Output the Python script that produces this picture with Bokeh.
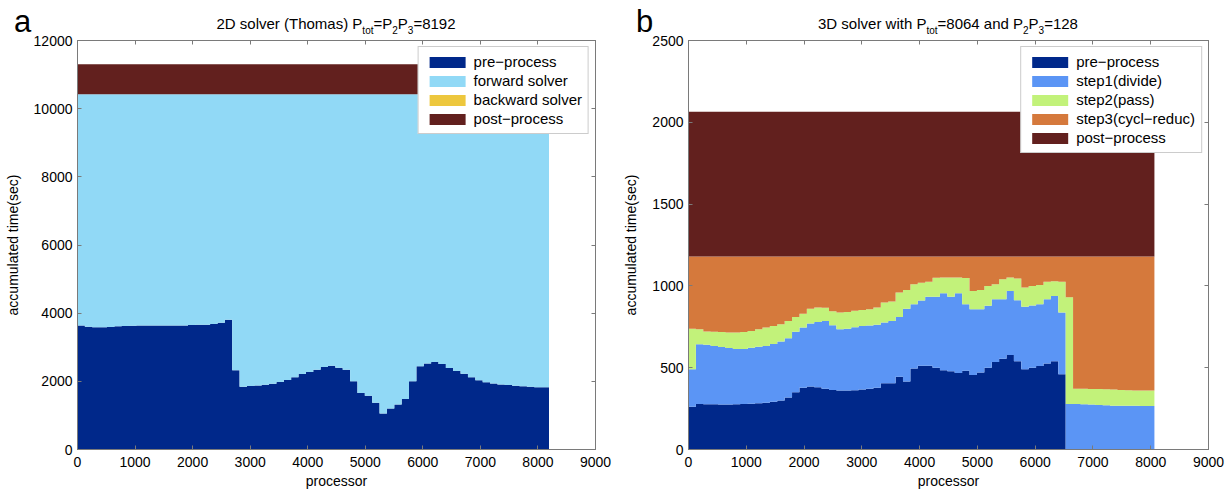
from bokeh.plotting import figure
from bokeh.layouts import row, column
from bokeh.models import FixedTicker, LinearAxis, Range1d, CustomJSTickFormatter, Div
from bokeh.embed import file_html
from bokeh.resources import INLINE

# ---------------- data: panel a (2D solver, Thomas) ----------------
BIN_A = 128                      # processors per bar
pre_end_a = [3640, 3600, 3590, 3590, 3595, 3615, 3625, 3630, 3635, 3640,
             3640, 3640, 3640, 3640, 3640, 3655, 3660, 3660, 3680, 3720,
             3805, 2322, 1844, 1860, 1880, 1900, 1930, 1980, 2040, 2117,
             2215, 2273, 2341, 2420, 2460, 2400, 2340, 2000, 1660, 1580,
             1370, 1055, 1200, 1320, 1480, 2000, 2440, 2520, 2570, 2510,
             2390, 2300, 2220, 2120, 2030, 1970, 1940, 1910, 1890, 1870,
             1855, 1840, 1830, 1825]
fwd_end_a = [10420] * 64
bwd_end_a = [10420] * 64
post_end_a = [11300] * 64

# ---------------- data: panel b (3D solver) ----------------
BIN_B = 128
pre_end_b = [261, 278, 277, 276, 275, 275, 276, 278, 280, 283,
             286, 292, 300, 318, 350, 378, 385, 380, 372, 364,
             360, 360, 362, 366, 372, 378, 405, 405, 445, 415,
             495, 512, 512, 500, 484, 478, 468, 482, 455, 470,
             500, 535, 555, 578, 540, 490, 500, 510, 525, 540,
             460, 0, 0, 0, 0, 0, 0, 0, 0, 0, 0, 0, 0]
step1_end_b = [490, 643, 640, 632, 626, 620, 615, 615, 622, 628,
               633, 645, 660, 680, 720, 745, 770, 780, 786, 760,
               735, 738, 748, 755, 758, 762, 776, 785, 810, 860,
               888, 910, 933, 933, 955, 933, 955, 888, 857, 857,
               878, 918, 918, 969, 912, 872, 880, 888, 918, 939,
               837, 278, 278, 276, 275, 272, 270, 268, 268, 267, 267, 266, 266]
step2_end_b = [738, 735, 722, 720, 718, 715, 715, 718, 725, 735,
               745, 755, 766, 786, 810, 830, 860, 868, 866, 845,
               837, 840, 848, 852, 858, 868, 898, 905, 960, 975,
               1010, 1020, 1025, 1050, 1051, 1051, 1051, 1048, 969, 975,
               1000, 1010, 1040, 1051, 1045, 990, 1000, 1005, 1026, 1028,
               1026, 930, 372, 372, 370, 370, 368, 366, 364, 362, 360, 360, 360]
step3_end_b = [1180] * 63
post_end_b = [2065] * 63

labels_a = ["pre\u2212process", "forward solver", "backward solver", "post\u2212process"]
labels_b = ["pre\u2212process", "step1(divide)", "step2(pass)", "step3(cycl\u2212reduc)", "post\u2212process"]
x_ticks = [0, 1000, 2000, 3000, 4000, 5000, 6000, 7000, 8000, 9000]
y_ticks_a = [0, 2000, 4000, 6000, 8000, 10000, 12000]
y_ticks_b = [0, 500, 1000, 1500, 2000, 2500]

colors_a = ["#00288A", "#91D9F6", "#EDC73D", "#62201E"]
colors_b = ["#00288A", "#5B95F5", "#C2F27A", "#D5793C", "#62201E"]

F = "Liberation Sans"
FRAME = "#7a7a7a"
TOP = 28          # height of the title strip (its text may run a little lower)


def make_panel(width, bl, br, yr, ends, colors, names, yticks, binw):
    p = figure(width=width, height=492 - TOP, output_backend="svg", toolbar_location=None,
               x_range=Range1d(0, 9000), y_range=Range1d(0, yr),
               min_border_left=bl, min_border_right=br, min_border_top=12, min_border_bottom=43)
    p.grid.visible = False
    p.outline_line_color = FRAME
    p.background_fill_color = "white"
    p.border_fill_color = None
    n = len(ends[0])
    edges = [i * binw for i in range(n + 1)]
    bottom = [0] * n
    for e, c, nm in zip(ends, colors, names):
        y1 = list(bottom) + [bottom[-1]]
        y2 = list(e) + [e[-1]]
        p.varea_step(x=edges, y1=y1, y2=y2, step_mode="after", fill_color=c,
                     legend_label=nm)
        bottom = e
    p.add_layout(LinearAxis(), "above")
    p.add_layout(LinearAxis(), "right")
    for ax in p.xaxis:
        ax.ticker = FixedTicker(ticks=x_ticks)
    for ax in p.yaxis:
        ax.ticker = FixedTicker(ticks=yticks)
    for ax in p.axis:
        ax.major_tick_in = 4
        ax.major_tick_out = 0
        ax.minor_tick_line_color = None
        ax.axis_line_color = FRAME
        ax.major_tick_line_color = FRAME
        ax.major_label_text_font = F
        ax.major_label_text_font_size = "14px"
        ax.major_label_text_color = "black"
        ax.axis_label_text_font = F
        ax.axis_label_text_font_size = "14px"
        ax.axis_label_text_font_style = "normal"
        ax.axis_label_text_color = "black"
    for ax in (p.above[-1], p.right[-1]):
        ax.formatter = CustomJSTickFormatter(code="return ''")
        ax.major_label_standoff = 0
    xb = p.below[0]
    xb.axis_label = "processor"
    xb.major_label_standoff = 7
    xb.axis_label_standoff = 3
    yl = p.left[0]
    yl.axis_label = "accumulated time(sec)"
    yl.major_label_standoff = 5
    yl.axis_label_standoff = 10

    lg = p.legend[0]
    lg.location = "top_right"
    lg.margin = 6
    lg.padding = 6
    lg.spacing = 2
    lg.glyph_width = 45
    lg.glyph_height = 14
    lg.label_height = 14
    lg.label_standoff = 4
    lg.label_text_font = F
    lg.label_text_font_size = "15px"
    lg.label_text_color = "black"
    lg.border_line_color = "#9a9a9a"
    lg.background_fill_alpha = 1.0
    return p


def title_div(width, letter, letter_left, center, html):
    s = ("<div style='position:relative;width:%dpx;height:%dpx;overflow:visible;"
         "font-family:\"Liberation Sans\";color:black;'>"
         "<span style='position:absolute;left:%dpx;top:6px;font-size:31px;line-height:31px;'>%s</span>"
         "<span style='position:absolute;left:%dpx;top:16px;transform:translateX(-50%%);white-space:nowrap;"
         "font-size:15px;line-height:15px;'>%s</span></div>") % (width, TOP, letter_left, letter, center, html)
    return Div(text=s, width=width, height=TOP, margin=0, styles={"overflow": "visible"})


def sub(t):
    return "<span style='font-size:10px;vertical-align:-5px;'>%s</span>" % t


title_a = "2D solver (Thomas) P" + sub("tot") + "=P" + sub("2") + "P" + sub("3") + "=8192"
title_b = "3D solver with P" + sub("tot") + "=8064 and P" + sub("2") + "P" + sub("3") + "=128"

pa = make_panel(615, 77, 20, 12000, [pre_end_a, fwd_end_a, bwd_end_a, post_end_a],
                colors_a, labels_a, y_ticks_a, BIN_A)
pb = make_panel(617, 73, 24, 2500, [pre_end_b, step1_end_b, step2_end_b, step3_end_b, post_end_b],
                colors_b, labels_b, y_ticks_b, BIN_B)

da = title_div(615, "a", 14, 77 + 259, title_a)
db = title_div(617, "b", 21, 73 + 260, title_b)

layout = column(row(da, db, spacing=0), row(pa, pb, spacing=0), spacing=0)
open("out.html", "w").write(file_html(layout, INLINE))
